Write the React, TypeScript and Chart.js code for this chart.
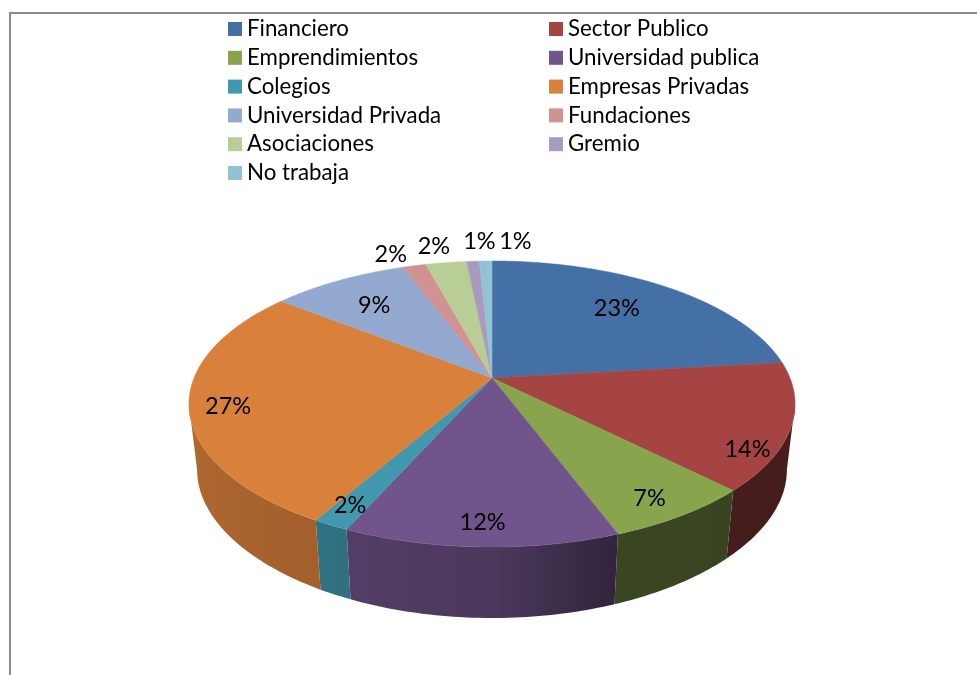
import React, { useEffect, useRef } from "react";
import { Chart, registerables } from "chart.js";

Chart.register(...registerables);

const categories = ["Financiero", "Sector Publico", "Emprendimientos", "Universidad publica", "Colegios", "Empresas Privadas", "Universidad Privada", "Fundaciones", "Asociaciones", "Gremio", "No trabaja"];
const shares = [23.2, 14.35, 6.75, 12.37, 1.63, 27.3, 8.7, 1.5, 2.6, 0.8, 0.8];
const percentLabels = ["23%", "14%", "7%", "12%", "2%", "27%", "9%", "2%", "2%", "1%", "1%"];
const colors = ["#4570A6", "#A54442", "#88A44D", "#71548B", "#4198AF", "#D9803B", "#93A9CF", "#D09392", "#B9CD96", "#A99BBD", "#92C3D4"];
const labelRadius = [0.725, 0.913, 0.877, 0.875, 0.885, 0.876, 0.732, 1.148, 1.18, 1.22, 1.223];
const labelTurnDeg = [-2.2, 11.4, 1.3, 0, 0.5, -1.7, -0.55, -2.9, -1.1, 1.9, 5.95];
const shadeAngles = [0, 133, 160, 180, 210, 285, 360];
const shadeFactors = [0.42, 0.42, 0.43, 0.67, 0.75, 0.87, 0.9];

const CX = 492, CY = 378, BX = 298, AY = 138.3, PERSP = -0.1818;

function project(a: number, r = 1) {
  const u = r * Math.cos(a), v = r * Math.sin(a);
  const w = 1 + PERSP * v;
  return { x: CX + (BX * u) / w, y: CY + (AY * v) / w };
}
function bottom(p: { x: number; y: number }) {
  const t = (p.y - 405) / 142;
  return { x: CX + 0.973 * (p.x - CX), y: p.y + 66 + 5 * t * t };
}
function hexRgb(h: string) {
  return [1, 3, 5].map((i) => parseInt(h.slice(i, i + 2), 16));
}
function shade(hex: string, a: number) {
  let deg = ((a + Math.PI / 2) * 180) / Math.PI;
  deg = ((deg % 360) + 360) % 360;
  let f = shadeFactors[0];
  for (let i = 1; i < shadeAngles.length; i++) {
    if (deg <= shadeAngles[i]) {
      const t = (deg - shadeAngles[i - 1]) / (shadeAngles[i] - shadeAngles[i - 1]);
      f = shadeFactors[i - 1] + t * (shadeFactors[i] - shadeFactors[i - 1]);
      break;
    }
  }
  const [r, g, b] = hexRgb(hex);
  return `rgb(${Math.round(r * f)},${Math.round(g * f)},${Math.round(b * f)})`;
}

const pie3d = {
  id: "pie3d",
  beforeDatasetsDraw(chart: any) {
    const { ctx } = chart;
    const arcs = chart.getDatasetMeta(0).data;
    ctx.save();
    // frame
    ctx.fillStyle = "#8a8a8a";
    ctx.fillRect(9, 12, 968, 2);
    ctx.fillRect(9, 12, 2, 663);
    // outer walls: only the front-facing part, up to the silhouette tangent
    arcs.forEach((arc: any, i: number) => {
      const span = arc.endAngle - arc.startAngle;
      const n = Math.max(2, Math.ceil((span * 180) / Math.PI));
      const top: { x: number; y: number }[] = [];
      const grad = ctx.createLinearGradient(CX - 303, 0, CX + 303, 0);
      for (let k = 0; k <= n; k++) {
        const a = arc.startAngle + (span * k) / n;
        if (Math.sin(a) < 0.17) continue;
        const p = project(a);
        top.push(p);
        grad.addColorStop(Math.min(1, Math.max(0, (p.x - CX + 303) / 606)), shade(colors[i], a));
      }
      if (top.length < 2) return;
      ctx.fillStyle = grad;
      ctx.beginPath();
      top.forEach((p, k) => (k ? ctx.lineTo(p.x, p.y) : ctx.moveTo(p.x, p.y)));
      top.slice().reverse().forEach((p) => {
        const b = bottom(p);
        ctx.lineTo(b.x, b.y);
      });
      ctx.closePath();
      ctx.fill();
    });
    // top face
    arcs.forEach((arc: any, i: number) => {
      const n = Math.max(2, Math.ceil(((arc.endAngle - arc.startAngle) * 180) / Math.PI) * 2);
      ctx.fillStyle = colors[i];
      ctx.strokeStyle = colors[i];
      ctx.lineWidth = 0.5;
      ctx.beginPath();
      ctx.moveTo(CX, CY);
      for (let k = 0; k <= n; k++) {
        const p = project(arc.startAngle + ((arc.endAngle - arc.startAngle) * k) / n);
        ctx.lineTo(p.x, p.y);
      }
      ctx.closePath();
      ctx.fill();
      ctx.stroke();
    });
    // percent labels
    ctx.fillStyle = "#000";
    ctx.font = "23.5px Lato";
    ctx.textAlign = "center";
    ctx.textBaseline = "middle";
    arcs.forEach((arc: any, i: number) => {
      const mid = (arc.startAngle + arc.endAngle) / 2 + (labelTurnDeg[i] * Math.PI) / 180;
      const p = project(mid, labelRadius[i]);
      ctx.fillText(percentLabels[i], p.x, p.y + 1);
    });
    // legend, two columns
    ctx.font = "22.3px Lato";
    ctx.textAlign = "left";
    categories.forEach((c, i) => {
      const col = i % 2, row = Math.floor(i / 2);
      const x = col === 0 ? 228 : 549;
      const y = 29 + row * 28.8;
      ctx.fillStyle = colors[i];
      ctx.fillRect(x, y - 7, 14, 14);
      ctx.fillStyle = "#000";
      ctx.fillText(c, x + 19, y);
    });
    ctx.restore();
    return false;
  },
};

export default function App() {
  const ref = useRef<HTMLCanvasElement>(null);
  useEffect(() => {
    const chart = new Chart(ref.current!, {
      type: "pie",
      data: { labels: categories, datasets: [{ data: shares, backgroundColor: colors, borderWidth: 0 }] },
      options: {
        animation: false,
        responsive: false,
        plugins: { legend: { display: false }, tooltip: { enabled: false } },
      },
      plugins: [pie3d],
    } as any);
    return () => chart.destroy();
  }, []);
  return (
    <div style={{ position: "fixed", left: 0, top: 0, width: 977, height: 675, background: "#fff" }}>
      <canvas ref={ref} width={977} height={675} style={{ display: "block" }} />
    </div>
  );
}
